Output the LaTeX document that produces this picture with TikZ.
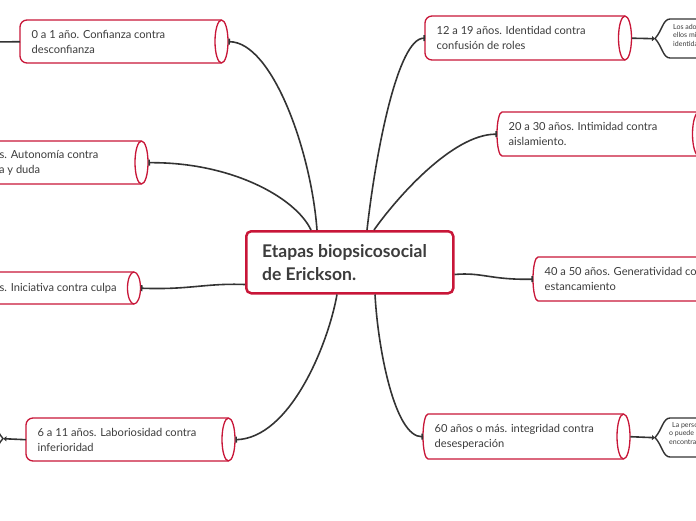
\documentclass[tikz,border=0pt]{standalone}
\usepackage{fontspec}
\setmainfont{Lato}
\usetikzlibrary{arrows.meta,calc}
\definecolor{crim}{RGB}{200,22,56}
\definecolor{ink}{RGB}{51,51,51}
\definecolor{txt}{RGB}{60,60,60}
\tikzset{
  boxline/.style={draw=crim, line width=1.3pt, fill=white},
  boxtext/.style={inner sep=0pt, align=left, text=txt, font=\fontsize{11.1}{15}\selectfont},
  conn/.style={draw=ink, line width=1.6pt},
  barend/.style={conn, -{Bar[width=6pt,line width=1.6pt]}},
  darkline/.style={draw=ink, line width=1.4pt, fill=white},
  smalltext/.style={inner sep=0pt, align=left, text=txt, font=\fontsize{7}{8.5}\selectfont},
  frame/.style={inner sep=0pt, draw=none, anchor=north west},
}
% #1 name, #2 x0, #3 y0, #4 x1 (ellipse centre), #5 y1, #6 text, #7 r=rounded / c=curved left end
\newcommand\cylbox[7]{%
  \node[frame, minimum width={#4+6.5-(#2)}, minimum height={#5-#3}] (#1) at (#2,-#3) {};
  \if r#7
    \draw[boxline] (#2+7,-#3) -- (#4,-#3)
      arc[start angle=90,end angle=-90,x radius=6.5,y radius={(#5-#3)/2}]
      -- (#2+7,-#5) arc[start angle=270,end angle=180,radius=7]
      -- (#2,-#3-7) arc[start angle=180,end angle=90,radius=7] -- cycle;
  \else
    \draw[boxline] (#2+5,-#3) -- (#4,-#3)
      arc[start angle=90,end angle=-90,x radius=6.5,y radius={(#5-#3)/2}]
      -- (#2+5,-#5)
      arc[start angle=270,end angle=90,x radius=5,y radius={(#5-#3)/2}] -- cycle;
  \fi
  \draw[boxline, fill=none] (#4,-#3) arc[start angle=90,end angle=270,x radius=6.5,y radius={(#5-#3)/2}];
  \node[boxtext, anchor=west] (#1t) at ($(#1.west)+(11.5,0)$) {#6};
}
\begin{document}
\begin{tikzpicture}[x=1pt,y=1pt]
\useasboundingbox (0,0) rectangle (696,-520);

% centre
\node[draw=crim, line width=2.5pt, rounded corners=5pt, fill=white, anchor=north west,
      inner sep=0pt, minimum width=207pt, minimum height=62pt] (c) at (245,-230) {};
\node[inner sep=0pt, anchor=west, align=left, text=txt,
      font=\bfseries\fontsize{17.5}{23}\selectfont] (ct) at ($(c.west)+(17,0)$)
      {Etapas biopsicosocial\\de Erickson.};

% left side
\cylbox{n1}{20}{20}{221.5}{63}{0 a 1 año. Confianza contra\\desconfianza}{r}
\cylbox{n2}{-57}{141}{141.5}{184}{1 a 3 años. Autonomía contra\\vergüenza y duda}{r}
\cylbox{n3}{-57}{272}{134}{304}{3 a 6 años. Iniciativa contra culpa}{r}
\cylbox{n4}{26}{418}{228.5}{461}{6 a 11 años. Laboriosidad contra\\inferioridad}{r}

% right side
\cylbox{n5}{425}{16}{625}{60}{12 a 19 años. Identidad contra\\confusión de roles}{r}
\cylbox{n6}{497}{112}{699}{156}{20 a 30 años. Intimidad contra\\aislamiento.}{c}
\cylbox{n7}{533}{257}{745}{301}{40 a 50 años. Generatividad contra\\estancamiento}{c}
\cylbox{n8}{423}{414}{623.5}{459}{60 años o más. integridad contra\\desesperación}{c}

% dark detail nodes
\node[frame, minimum width=90pt, minimum height=39pt] (a1) at (655,-19) {};
\draw[darkline] (760,-19) -- (670,-19) .. controls (663,-19) and (662,-31) .. (655,-38.5)
  .. controls (662,-46) and (663,-58) .. (670,-58) -- (760,-58);
\node[smalltext, anchor=north west] (a1t) at (673,-24) {Los adolescentes\\ellos mismos\\identidad};

\node[frame, minimum width=90pt, minimum height=39pt] (a2) at (655,-418) {};
\draw[darkline] (760,-418) -- (670,-418) .. controls (663,-418) and (662,-430) .. (655,-437.5)
  .. controls (662,-445) and (663,-457) .. (670,-457) -- (760,-457);
\node[smalltext, anchor=north west] (a2t) at (669,-422) {\hspace{3pt}La persona\\o puede\\encontrar};

\node[frame, minimum width=40pt, minimum height=39pt] (d4) at (-37,-419) {};
\draw[darkline] (-60,-419) -- (-12,-419) .. controls (-5,-419) and (-4,-431) .. (3,-438.5)
  .. controls (-4,-446) and (-5,-458) .. (-12,-458) -- (-60,-458);

\coordinate (e1) at (-5,-42);

% connectors
\draw[barend] ($(c.north west)+(72,0)$) .. controls (311,-150) and (272,-42) .. (n1.east);
\draw[barend] ($(c.north west)+(66,0)$) .. controls (296,-198) and (232,-162) .. (n2.east);
\draw[barend] ($(c.south west)+(0,10)$) .. controls (205,-283) and (190,-290) .. (n3.east);
\draw[barend] ($(c.south west)+(92,0)$) .. controls (328,-345) and (290,-438) .. (n4.east);
\draw[barend] ($(c.north west)+(122,0)$) .. controls (376,-150) and (398,-38) .. (n5.west);
\draw[barend] ($(c.north west)+(129,0)$) .. controls (395,-200) and (452,-134) .. (n6.west);
\draw[barend] ($(c.south east)+(0,20)$) .. controls (482,-272) and (490,-280) .. (n7.west);
\draw[barend] ($(c.south west)+(130,0)$) .. controls (378,-350) and (395,-437) .. (n8.west);

\draw[conn, -{Triangle[length=3pt,width=5pt]}] (n5.east) -- (a1.west);
\draw[conn, -{Triangle[length=3pt,width=5pt]}] (n8.east) -- (a2.west);
\draw[conn, -{Triangle[length=3pt,width=5pt]}] (n4.west) -- (d4.east);
\draw[conn] (n1.west) -- (e1);
\end{tikzpicture}
\end{document}
